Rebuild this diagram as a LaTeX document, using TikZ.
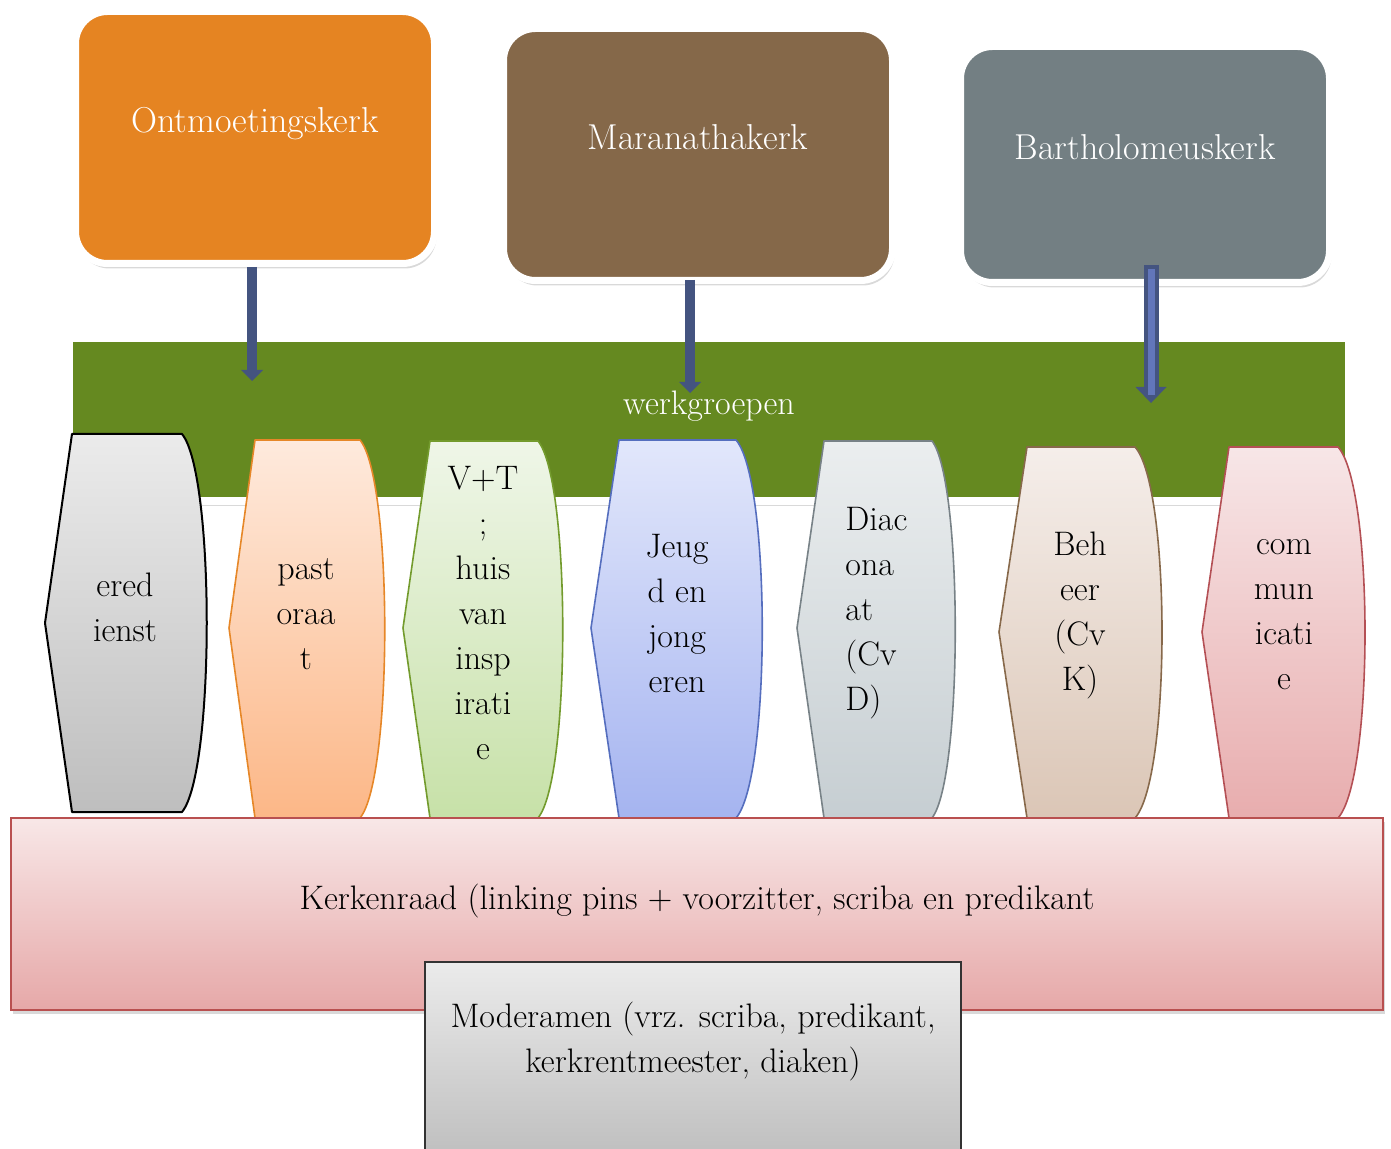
\documentclass[tikz,border=0pt]{standalone}
\usetikzlibrary{arrows.meta,shadows,calc}

\definecolor{ontmOrange}{RGB}{229,132,34}
\definecolor{maraBrown}{RGB}{133,104,73}
\definecolor{bartGrey}{RGB}{115,127,131}
\definecolor{werkGreen}{RGB}{101,137,32}
\definecolor{pijlBlue}{RGB}{68,84,128}
\definecolor{pijlLight}{RGB}{98,118,186}
\definecolor{kerkLine}{RGB}{185,80,80}
\definecolor{kerkTop}{RGB}{248,231,231}
\definecolor{kerkBot}{RGB}{230,168,168}
\definecolor{modTop}{RGB}{235,235,235}
\definecolor{modBot}{RGB}{190,190,190}
\definecolor{edTop}{RGB}{235,235,235}
\definecolor{edBot}{RGB}{190,190,190}
\definecolor{paLine}{RGB}{230,135,40}
\definecolor{paTop}{RGB}{254,234,221}
\definecolor{paBot}{RGB}{252,183,135}
\definecolor{vtLine}{RGB}{115,155,45}
\definecolor{vtTop}{RGB}{239,246,232}
\definecolor{vtBot}{RGB}{199,225,168}
\definecolor{jeLine}{RGB}{85,110,190}
\definecolor{jeTop}{RGB}{226,231,251}
\definecolor{jeBot}{RGB}{165,180,240}
\definecolor{diLine}{RGB}{120,130,135}
\definecolor{diTop}{RGB}{235,238,239}
\definecolor{diBot}{RGB}{198,206,210}
\definecolor{beLine}{RGB}{135,105,75}
\definecolor{beTop}{RGB}{245,238,234}
\definecolor{beBot}{RGB}{219,198,182}
\definecolor{coLine}{RGB}{180,80,85}
\definecolor{coTop}{RGB}{247,230,231}
\definecolor{coBot}{RGB}{232,173,174}

\begin{document}
\begin{tikzpicture}[x=0.5pt,y=0.5pt,yscale=-1,xscale=1,
  font=\fontsize{17}{22.5}\selectfont,
  kerk/.style={rounded corners=16pt, draw=white, line width=3.5pt, text=white,
    font=\fontsize{18}{22.5}\selectfont,
    inner sep=0pt, text height=11pt, text depth=16pt,
    drop shadow={shadow xshift=1pt, shadow yshift=-2.5pt, opacity=0.3}},
  band/.style={draw=white, line width=4pt, fill=werkGreen, text=white,
    inner sep=0pt, text height=11pt, text depth=16pt,
    drop shadow={shadow xshift=1pt, shadow yshift=-2.5pt, opacity=0.3}},
  pijl/.style={draw=pijlBlue, line width=5pt,
    -{Triangle[width=11pt, length=5.5pt, line width=0pt]}},
  wg/.style={line width=0.8pt, line join=round},
  wgtext/.style={align=center, inner sep=0pt},
  raad/.style={draw=kerkLine, line width=0.9pt, top color=kerkTop, bottom color=kerkBot,
    inner sep=0pt, text height=11pt, text depth=16pt,
    drop shadow={shadow xshift=1pt, shadow yshift=-2pt, opacity=0.3}},
  moder/.style={draw=black!80, line width=1pt, top color=modTop, bottom color=modBot,
    inner sep=0pt, align=center}
]
\clip (0,0) rectangle (1391,1149);

% Rounded Rect
\node[kerk, fill=ontmOrange, minimum width=179.5pt, minimum height=126pt] (ontm) at (255,137.5) {Ontmoetingskerk};
% Rounded Rect
\node[kerk, fill=maraBrown, minimum width=194.5pt, minimum height=126pt] (mara) at (698,154.5) {Maranathakerk};
% Rounded Rect
\node[kerk, fill=bartGrey, minimum width=184.5pt, minimum height=118pt] (bart) at (1145,164.5) {Bartholomeuskerk};

% Rect
\node[band, minimum width=640pt, minimum height=81.5pt] (werk) at (709,420) {werkgroepen};

% Arrows
\coordinate (w1) at (252,381);
\coordinate (w2) at (690,393);
\coordinate (w3) at (1151,403);
\draw[pijl] (ontm.south -| w1) -- (w1);
\draw[pijl] ($(mara.south -| w2)+(0,-4)$) -- (w2);
\draw[pijl, line width=7.5pt, -{Triangle[width=15.5pt, length=8pt, line width=0pt]}] ($(bart.south -| w3)+(0,-21)$) -- (w3);
\draw[draw=pijlLight, line width=3.5pt, shorten <=2pt, shorten >=4pt] ($(bart.south -| w3)+(0,-21)$) -- (w3);

%Shape: eredienst
\draw[wg, draw=black, line width=1pt, top color=edTop, bottom color=edBot] (72,434) -- (182,434) .. controls (215,474) and (215,772) .. (182,812) -- (72,812) -- (45,623) -- cycle;
%Shape: pastoraat
\draw[wg, draw=paLine, top color=paTop, bottom color=paBot] (255,440) -- (360,440) .. controls (393,480) and (393,778) .. (360,818) -- (255,818) -- (229,628) -- cycle;
%Shape: V+T
\draw[wg, draw=vtLine, top color=vtTop, bottom color=vtBot] (430,441) -- (538,441) .. controls (571,481) and (571,778) .. (538,818) -- (430,818) -- (403,628) -- cycle;
%Shape: jeugd
\draw[wg, draw=jeLine, top color=jeTop, bottom color=jeBot] (619,440) -- (736,440) .. controls (771,480) and (771,778) .. (736,818) -- (619,818) -- (591,628) -- cycle;
%Shape: diaconaat
\draw[wg, draw=diLine, top color=diTop, bottom color=diBot] (824,441) -- (932,441) .. controls (963,481) and (963,778) .. (932,818) -- (824,818) -- (797,628) -- cycle;
%Shape: beheer
\draw[wg, draw=beLine, top color=beTop, bottom color=beBot] (1027,447) -- (1135,447) .. controls (1171,487) and (1171,778) .. (1135,818) -- (1027,818) -- (999,632) -- cycle;
%Shape: communicatie
\draw[wg, draw=coLine, top color=coTop, bottom color=coBot] (1229,447) -- (1338,447) .. controls (1374,487) and (1374,778) .. (1338,818) -- (1229,818) -- (1202,632) -- cycle;

% Text Node
\node[wgtext] (eredienst) at (125,607) {ered\\ienst};
% Text Node
\node[wgtext] (pastoraat) at (306,614) {past\\oraa\\t};
% Text Node
\node[wgtext] (vt) at (483,613) {V+T\\;\\huis\\van\\insp\\irati\\e};
% Text Node
\node[wgtext] (jeugd) at (677,614) {Jeug\\d en\\jong\\eren};
% Text Node
\node[wgtext, align=left, anchor=west] (diaconaat) at (845,613) {Diac\\ona\\at\\(Cv\\D)};
% Text Node
\node[wgtext] (beheer) at (1080,615) {Beh\\eer\\(Cv\\K)};
% Text Node
\node[wgtext] (communicatie) at (1284,615) {com\\mun\\icati\\e};

% Rect
\node[raad, minimum width=686pt, minimum height=96pt] (raad) at (697,914) {Kerkenraad (linking pins + voorzitter, scriba en predikant};
% Rect
\node[moder, minimum width=268pt, minimum height=99pt, text depth=24pt] (moderamen) at (693,1061) {Moderamen (vrz. scriba, predikant,\\kerkrentmeester, diaken)};

\end{tikzpicture}
\end{document}
